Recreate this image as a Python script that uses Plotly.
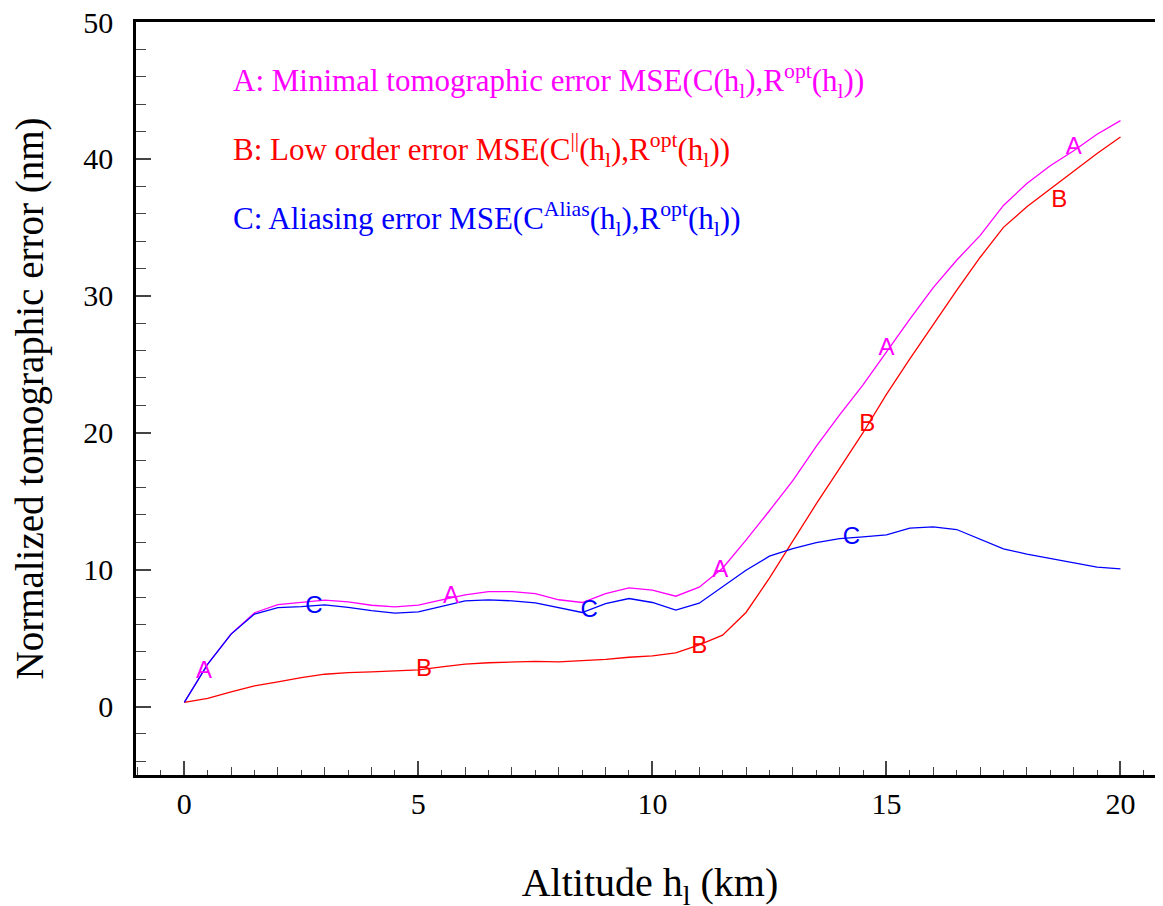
import plotly.graph_objects as go

altitude = [i * 0.5 for i in range(41)]

err_A = [0.3, 3.1, 5.3, 6.85, 7.45, 7.6, 7.77, 7.65, 7.4, 7.28,
         7.4, 7.8, 8.16, 8.4, 8.4, 8.25, 7.8, 7.6, 8.25, 8.67,
         8.5, 8.06, 8.72, 10.1, 12.15, 14.3, 16.5, 19.0, 21.3, 23.5,
         25.9, 28.3, 30.6, 32.6, 34.4, 36.6, 38.2, 39.5, 40.6, 41.8, 42.8]

err_B = [0.3, 0.6, 1.07, 1.51, 1.8, 2.12, 2.36, 2.48, 2.53, 2.6,
         2.68, 2.9, 3.1, 3.2, 3.27, 3.3, 3.27, 3.35, 3.45, 3.6,
         3.7, 3.92, 4.5, 5.21, 6.87, 9.38, 12.1, 14.8, 17.4, 20.0,
         22.8, 25.4, 27.9, 30.4, 32.8, 35.0, 36.5, 37.8, 39.1, 40.4, 41.6]

err_C = [0.3, 3.1, 5.29, 6.75, 7.23, 7.3, 7.43, 7.25, 7.0, 6.82,
         6.92, 7.3, 7.72, 7.79, 7.72, 7.57, 7.2, 6.87, 7.52, 7.89,
         7.6, 7.04, 7.55, 8.74, 9.96, 10.98, 11.54, 11.98, 12.27, 12.4,
         12.54, 13.03, 13.13, 12.93, 12.23, 11.52, 11.13, 10.81, 10.49, 10.18, 10.06]

label_A_x = [0.42, 5.7, 11.45, 15.0, 19.0]
label_A_y = [2.5, 8.0, 9.9, 26.1, 40.8]
label_B_x = [5.12, 11.0, 14.59, 18.69]
label_B_y = [2.7, 4.35, 20.6, 36.9]
label_C_x = [2.77, 8.65, 14.25]
label_C_y = [7.3, 7.0, 12.3]

legend_texts = [
    "A: Minimal tomographic error MSE(C(h<sub>l</sub>),R<sup>opt</sup>(h<sub>l</sub>))",
    "B: Low order error MSE(C<sup>||</sup>(h<sub>l</sub>),R<sup>opt</sup>(h<sub>l</sub>))",
    "C: Aliasing error MSE(C<sup>Alias</sup>(h<sub>l</sub>),R<sup>opt</sup>(h<sub>l</sub>))",
]
legend_y_px = [80, 149, 218]

MAG = "#ff00ff"
RED = "#ff0000"
BLU = "#0000ff"
colors = [MAG, RED, BLU]

# page body has an 8px margin in the browser; compensate so the plot lands where the reference has it
OFF = 7
W, H = 1163, 906
ML, MR, MT, MB = 135 - OFF, OFF, 21 - OFF, 906 - (774 - OFF)

fig = go.Figure()
for ys, c in [(err_A, MAG), (err_B, RED), (err_C, BLU)]:
    fig.add_trace(go.Scatter(x=altitude, y=ys, mode="lines",
                             line=dict(color=c, width=1.3), showlegend=False,
                             hoverinfo="skip"))
for lx, ly, t, c in [(label_A_x, label_A_y, "A", MAG),
                     (label_B_x, label_B_y, "B", RED),
                     (label_C_x, label_C_y, "C", BLU)]:
    fig.add_trace(go.Scatter(x=lx, y=ly, mode="text", text=[t] * len(lx),
                             textfont=dict(family="Liberation Sans, Arial", size=24, color=c),
                             showlegend=False, hoverinfo="skip"))

# extra axis to draw 1 km medium ticks
fig.add_trace(go.Scatter(x=[0], y=[None], xaxis="x2", showlegend=False, hoverinfo="skip"))

ph = H - MT - MB
for txt, ypx, c in zip(legend_texts, legend_y_px, colors):
    fig.add_annotation(x=(230 - 135) / (W - ML - MR), y=(774 - ypx) / ph,
                       xref="paper", yref="paper", xanchor="left", yanchor="middle",
                       text=txt, showarrow=False,
                       font=dict(family="Liberation Serif, Times New Roman", size=31, color=c))

xr = [-1.032, 20.93]
fig.update_layout(
    width=W, height=H,
    margin=dict(l=ML, r=MR, t=MT, b=MB, autoexpand=False),
    plot_bgcolor="white", paper_bgcolor="white",
    font=dict(family="Liberation Serif, Times New Roman", color="black"),
    xaxis=dict(range=xr, tickmode="linear", tick0=0, dtick=5, automargin=False,
               ticks="inside", ticklen=14, tickwidth=1.5, tickcolor="#444",
               minor=dict(dtick=0.5, tick0=0, ticks="inside", ticklen=5, tickwidth=1.3, tickcolor="#444"),
               showline=True, linecolor="black", linewidth=2.5, mirror=True,
               showgrid=False, zeroline=False, ticklabeloverflow="allow",
               tickfont=dict(size=30), ticklabelstandoff=0,
               title=dict(text="Altitude h<sub>l</sub> (km)", font=dict(size=40), standoff=50)),
    xaxis2=dict(range=xr, overlaying="x", side="bottom", tickmode="linear", tick0=0, dtick=1,
                ticks="inside", ticklen=8, tickwidth=1.3, tickcolor="#444", automargin=False,
                showticklabels=False, showline=False, showgrid=False, zeroline=False),
    yaxis=dict(range=[-5, 50], tickmode="linear", tick0=0, dtick=10, automargin=False,
               ticks="inside", ticklen=15, tickwidth=1.5, tickcolor="#444",
               minor=dict(dtick=2, tick0=0, ticks="inside", ticklen=10, tickwidth=1.3, tickcolor="#444"),
               showline=True, linecolor="black", linewidth=2.5,
               showgrid=False, zeroline=False, ticklabeloverflow="allow",
               tickfont=dict(size=30), ticklabelstandoff=14,
               title=dict(text="Normalized tomographic error (nm)", font=dict(size=39), standoff=29)),
)

fig.write_html("out.html")
